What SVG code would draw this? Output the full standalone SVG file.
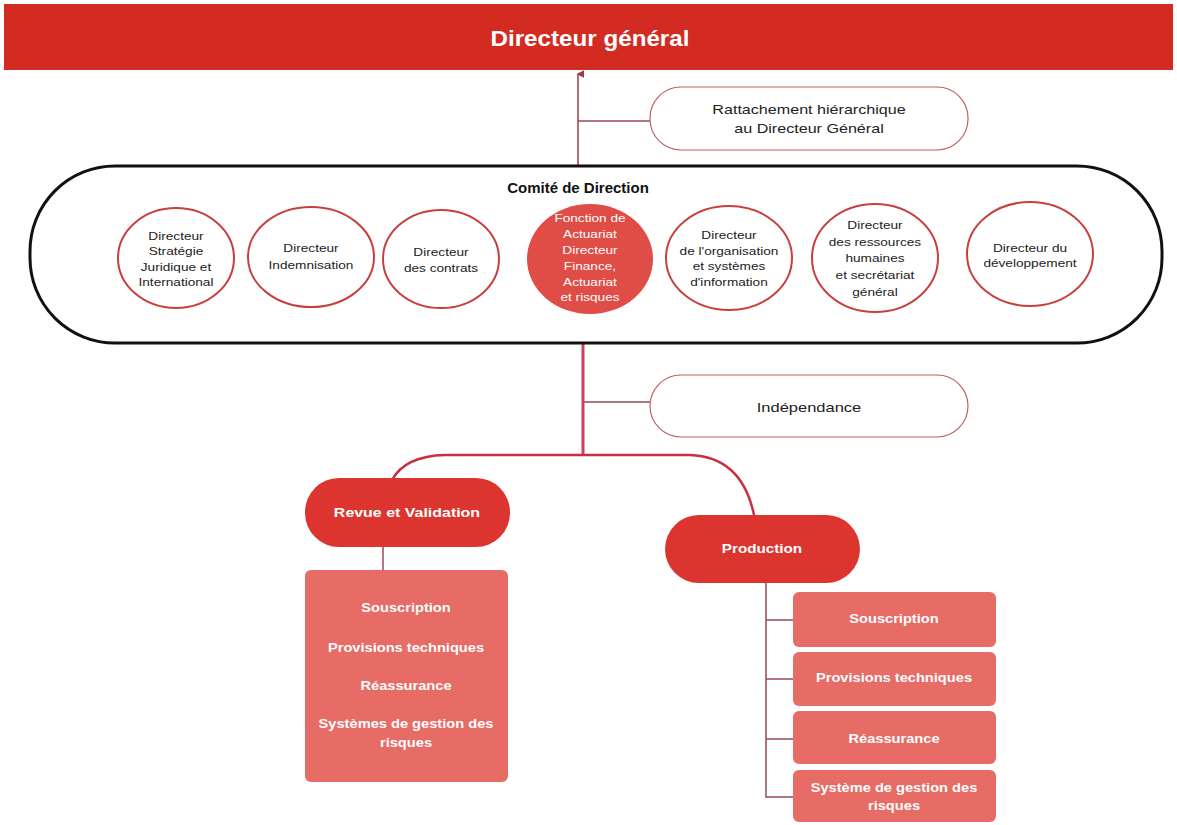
<svg xmlns="http://www.w3.org/2000/svg" width="1177" height="825" viewBox="0 0 1177 825">
<style>
.t{font-family:"Liberation Sans",Arial,sans-serif;text-anchor:middle}
.c{fill:#fff;stroke:#c8403e;stroke-width:2}
.ct{font-size:10.5px;fill:#222}
.note{fill:#fff;stroke:#c06060;stroke-width:1.2}
.nt{font-size:13px;fill:#222}
.pill{fill:#dc3530}
.box{fill:#e86c66}
.wt{fill:#fff;font-size:12px;font-weight:bold}
.conn{fill:none;stroke:#9a4a55;stroke-width:1.5}
</style>
<defs>
<marker id="ah" viewBox="0 0 10 10" refX="5" refY="2" markerWidth="8" markerHeight="8" orient="auto-start-reverse" markerUnits="userSpaceOnUse">
<path d="M0 10 L5 0 L10 10 Z" fill="#a03a4a"/>
</marker>
</defs>
<rect width="1177" height="825" fill="#fff"/>
<g id="directeur-general">
<rect x="4" y="4" width="1169" height="66" fill="#d32a21"/>
<g transform="matrix(1.1 0 0 1 -59 0)">
<text class="t" x="590" y="46" font-size="22" font-weight="bold" fill="#fff">Directeur général</text>
</g>
</g>
<g id="connectors">
<line x1="578" y1="166" x2="578" y2="74" stroke="#a03a4a" stroke-width="1.5" marker-end="url(#ah)"/>
<line class="conn" x1="578" y1="121" x2="650" y2="121"/>
<line x1="583" y1="313" x2="583" y2="456" stroke="#d0405a" stroke-width="3"/>
<line class="conn" x1="583" y1="402" x2="650" y2="402"/>
<path d="M392 480 Q405 456 445 455 L690 455 Q742 457 754 515" fill="none" stroke="#c83040" stroke-width="2.5"/>
<line class="conn" x1="383" y1="547" x2="383" y2="570"/>
<path class="conn" d="M766 583 L766 797 L793 797 M766 620 L793 620 M766 679 L793 679 M766 739 L793 739"/>
</g>
<g id="rattachement">
<rect class="note" x="650" y="87" width="318" height="63" rx="31"/>
<g transform="matrix(1.24 0 0 1 -194.16 0)">
<text class="t nt" x="809" y="114">Rattachement hiérarchique</text>
<text class="t nt" x="809" y="133">au Directeur Général</text>
</g>
</g>
<g id="comite">
<rect x="30" y="166" width="1132" height="177" rx="85" ry="85" fill="#fff" stroke="#111" stroke-width="3"/>
<text class="t" x="578" y="193" font-size="15" font-weight="bold" fill="#111">Comité de Direction</text>
</g>
<g id="dir-strategie">
<ellipse class="c" cx="176" cy="258" rx="58" ry="50"/>
<g transform="matrix(1.3 0 0 1 -52.8 0)">
<text class="t ct" x="176" y="240">Directeur</text>
<text class="t ct" x="176" y="255">Stratégie</text>
<text class="t ct" x="176" y="271">Juridique et</text>
<text class="t ct" x="176" y="286">International</text>
</g>
</g>
<g id="dir-indemnisation">
<ellipse class="c" cx="311" cy="257" rx="63" ry="50"/>
<g transform="matrix(1.3 0 0 1 -93.3 0)">
<text class="t ct" x="311" y="252">Directeur</text>
<text class="t ct" x="311" y="269">Indemnisation</text>
</g>
</g>
<g id="dir-contrats">
<ellipse class="c" cx="441" cy="259" rx="58" ry="49"/>
<g transform="matrix(1.3 0 0 1 -132.3 0)">
<text class="t ct" x="441" y="256">Directeur</text>
<text class="t ct" x="441" y="272">des contrats</text>
</g>
</g>
<g id="dir-finance">
<ellipse cx="590" cy="259" rx="63" ry="55" fill="#e04c46"/>
<g transform="matrix(1.3 0 0 1 -177 0)">
<text class="t" x="590" y="222" font-size="10.5" fill="#fff">Fonction de</text>
<text class="t" x="590" y="238" font-size="10.5" fill="#fff">Actuariat</text>
<text class="t" x="590" y="254" font-size="10.5" fill="#fff">Directeur</text>
<text class="t" x="590" y="270" font-size="10.5" fill="#fff">Finance,</text>
<text class="t" x="590" y="286" font-size="10.5" fill="#fff">Actuariat</text>
<text class="t" x="590" y="301" font-size="10.5" fill="#fff">et risques</text>
</g>
</g>
<g id="dir-organisation">
<ellipse class="c" cx="729" cy="258" rx="63" ry="52"/>
<g transform="matrix(1.3 0 0 1 -218.7 0)">
<text class="t ct" x="729" y="239">Directeur</text>
<text class="t ct" x="729" y="255">de l'organisation</text>
<text class="t ct" x="729" y="270">et systèmes</text>
<text class="t ct" x="729" y="286">d'information</text>
</g>
</g>
<g id="dir-rh">
<ellipse class="c" cx="875" cy="258" rx="63" ry="54"/>
<g transform="matrix(1.3 0 0 1 -262.5 0)">
<text class="t ct" x="875" y="229">Directeur</text>
<text class="t ct" x="875" y="246">des ressources</text>
<text class="t ct" x="875" y="262">humaines</text>
<text class="t ct" x="875" y="279">et secrétariat</text>
<text class="t ct" x="875" y="296">général</text>
</g>
</g>
<g id="dir-developpement">
<ellipse class="c" cx="1030" cy="254" rx="63" ry="52"/>
<g transform="matrix(1.3 0 0 1 -309 0)">
<text class="t ct" x="1030" y="252">Directeur du</text>
<text class="t ct" x="1030" y="267">développement</text>
</g>
</g>
<g id="independance">
<rect class="note" x="650" y="375" width="318" height="62" rx="31"/>
<g transform="matrix(1.27 0 0 1 -218.43 0)">
<text class="t nt" x="809" y="412">Indépendance</text>
</g>
</g>
<g id="revue">
<rect class="pill" x="305" y="478" width="205" height="69" rx="34"/>
<g transform="matrix(1.33 0 0 1 -134.31 0)">
<text class="t wt" x="407" y="517">Revue et Validation</text>
</g>
</g>
<g id="revue-box">
<rect class="box" x="305" y="570" width="203" height="212" rx="6"/>
<g transform="matrix(1.22 0 0 1 -89.32 0)">
<text class="t wt" x="406" y="612">Souscription</text>
<text class="t wt" x="406" y="652">Provisions techniques</text>
<text class="t wt" x="406" y="690">Réassurance</text>
<text class="t wt" x="406" y="728">Systèmes de gestion des</text>
<text class="t wt" x="406" y="747">risques</text>
</g>
</g>
<g id="production">
<rect class="pill" x="665" y="515" width="195" height="68" rx="34"/>
<g transform="matrix(1.27 0 0 1 -205.74 0)">
<text class="t wt" x="762" y="553">Production</text>
</g>
</g>
<g id="prod-souscription">
<rect class="box" x="793" y="592" width="203" height="55" rx="6"/>
<g transform="matrix(1.22 0 0 1 -196.68 0)">
<text class="t wt" x="894" y="623">Souscription</text>
</g>
</g>
<g id="prod-provisions">
<rect class="box" x="793" y="652" width="203" height="54" rx="6"/>
<g transform="matrix(1.22 0 0 1 -196.68 0)">
<text class="t wt" x="894" y="682">Provisions techniques</text>
</g>
</g>
<g id="prod-reassurance">
<rect class="box" x="793" y="711" width="203" height="53" rx="6"/>
<g transform="matrix(1.22 0 0 1 -196.68 0)">
<text class="t wt" x="894" y="743">Réassurance</text>
</g>
</g>
<g id="prod-systeme">
<rect class="box" x="793" y="770" width="203" height="52" rx="6"/>
<g transform="matrix(1.22 0 0 1 -196.68 0)">
<text class="t wt" x="894" y="792">Système de gestion des</text>
<text class="t wt" x="894" y="810">risques</text>
</g>
</g>
</svg>
